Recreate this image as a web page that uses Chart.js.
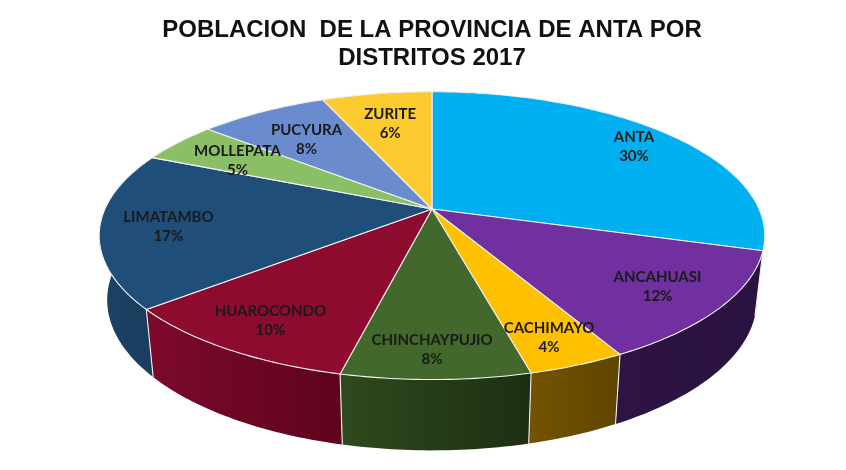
<!DOCTYPE html>
<html>
<head>
<meta charset="utf-8">
<style>html,body{margin:0;padding:0;background:#fff}canvas{display:block}</style>
<script src="https://cdn.jsdelivr.net/npm/chart.js@4"></script>
</head>
<body>
<canvas id="c" width="846" height="470"></canvas>
<script>
const titleLines = ['POBLACION  DE LA PROVINCIA DE ANTA POR', 'DISTRITOS 2017'];
const categories = ['ANTA','ANCAHUASI','CACHIMAYO','CHINCHAYPUJIO','HUAROCONDO','LIMATAMBO','MOLLEPATA','PUCYURA','ZURITE'];
const shares = [29.6, 12.4, 4, 7.7, 10.3, 17.5, 4.6, 7.5, 6.4];
const shownPercent = ['30%','12%','4%','8%','10%','17%','5%','8%','6%'];
const topColors = ['#00B0F0','#7030A0','#FFC000','#43682B','#8E0B30','#1F4E79','#8BBF66','#6A8CCF','#FBCB30'];
const wallLight = ['#0081B0','#2D1442','#735300','#2E4A1D','#7D0A2A','#1C4265','#5F8A44','#47649B','#B8921C'];
const wallDark  = ['#006E96','#2A1240','#5F4500','#1D2F12','#5E041C','#1A3D5E','#4F7638','#3C5586','#A07E14'];
const labelReach = [0.815,0.80,0.845,0.85,0.825,0.80,0.725,0.70,0.705];
const labelNudgeX = [6,1,-2,-3,2,1,-6,-2,-1];
const labelNudgeY = [0,1,1,0,0,2,1,1,0];

const ASPECT = 2.353, TILT = 0.185;
function project(arc, angle, reach) {
  const u = Math.cos(angle) * reach, v = Math.sin(angle) * reach, w = 1 - TILT * v;
  return { x: arc.x + ASPECT * arc.outerRadius * u / w, y: arc.y + arc.outerRadius * v / w };
}
function dropToBase(arc, p) {
  return { x: arc.x + (p.x - arc.x) * 0.976, y: p.y + 65 + (p.y - 250) * 0.045 };
}
function rimPoints(arc) {
  const pts = [], steps = Math.max(8, Math.ceil((arc.endAngle - arc.startAngle) * 60));
  for (let i = 0; i <= steps; i++) {
    pts.push(project(arc, arc.startAngle + (arc.endAngle - arc.startAngle) * i / steps, 1));
  }
  return pts;
}

const ArcEl = Chart.registry.getElement('arc');
ArcEl.prototype.draw = function (ctx) {
  const rim = rimPoints(this);
  ctx.save();
  ctx.beginPath();
  ctx.moveTo(this.x, this.y);
  rim.forEach(p => ctx.lineTo(p.x, p.y));
  ctx.closePath();
  ctx.fillStyle = this.options.backgroundColor;
  ctx.fill();
  ctx.lineJoin = 'round';
  ctx.strokeStyle = '#F2F2F2';
  ctx.lineWidth = 1.1;
  ctx.stroke();
  ctx.restore();
};

const pie3d = {
  id: 'pie3d',
  beforeDatasetsDraw(chart) {
    const ctx = chart.ctx, arcs = chart.getDatasetMeta(0).data;
    arcs.forEach((arc, i) => {
      const top = rimPoints(arc), base = top.map(p => dropToBase(arc, p));
      const xs = top.map(p => p.x);
      const g = ctx.createLinearGradient(Math.min(...xs), 0, Math.max(...xs), 0);
      g.addColorStop(0, wallLight[i]);
      g.addColorStop(1, wallDark[i]);
      ctx.save();
      ctx.beginPath();
      top.forEach((p, j) => j ? ctx.lineTo(p.x, p.y) : ctx.moveTo(p.x, p.y));
      base.slice().reverse().forEach(p => ctx.lineTo(p.x, p.y));
      ctx.closePath();
      ctx.fillStyle = g;
      ctx.fill();
      ctx.strokeStyle = '#F2F2F2';
      ctx.lineWidth = 1.1;
      ctx.beginPath();
      ctx.moveTo(top[0].x, top[0].y);
      ctx.lineTo(base[0].x, base[0].y);
      ctx.stroke();
      ctx.restore();
    });
  },
  afterDatasetsDraw(chart) {
    const ctx = chart.ctx, arcs = chart.getDatasetMeta(0).data;
    ctx.save();
    ctx.font = 'bold 15px Lato';
    ctx.fillStyle = '#1A1A1A';
    ctx.textAlign = 'center';
    ctx.textBaseline = 'middle';
    arcs.forEach((arc, i) => {
      const p = project(arc, (arc.startAngle + arc.endAngle) / 2, labelReach[i]);
      const x = p.x + labelNudgeX[i], y = p.y + labelNudgeY[i];
      ctx.fillText(categories[i], x, y - 9.5);
      ctx.fillText(shownPercent[i], x, y + 9.5);
    });
    ctx.restore();
  }
};

new Chart(document.getElementById('c'), {
  type: 'pie',
  data: { labels: categories, datasets: [{ data: shares, backgroundColor: topColors, borderWidth: 0 }] },
  options: {
    responsive: false,
    animation: false,
    layout: { padding: { left: 18, right: 0, top: 0, bottom: 122 } },
    plugins: {
      legend: { display: false },
      tooltip: { enabled: false },
      title: {
        display: true,
        text: titleLines,
        color: '#111111',
        font: { family: 'Liberation Sans', size: 24, weight: 'bold', lineHeight: 1.167 },
        padding: { top: 16, bottom: -2 }
      }
    }
  },
  plugins: [pie3d]
});
</script>
</body>
</html>
